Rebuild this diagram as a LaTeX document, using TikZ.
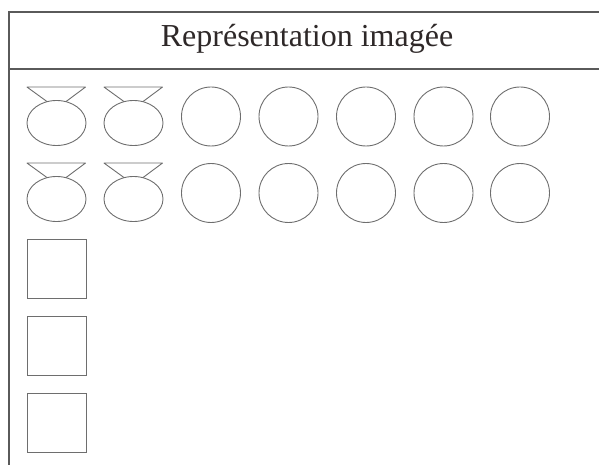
\documentclass[tikz,border=0pt]{standalone}
\usepackage{fontspec}
\setmainfont{Liberation Serif}
\usetikzlibrary{shapes.geometric}
\definecolor{frameclr}{HTML}{5A5A5A}
\definecolor{shapeclr}{HTML}{6E6E6E}
\definecolor{textclr}{HTML}{2E2828}
\begin{document}
\begin{tikzpicture}[x=1pt,y=-1pt,
  frameline/.style={draw=frameclr,line width=1.1pt},
  shapeline/.style={draw=shapeclr,line width=0.9pt},
  ring/.style={shapeline,circle,minimum size=59pt,inner sep=0pt},
  oval/.style={shapeline,ellipse,minimum width=59pt,minimum height=45pt,inner sep=0pt},
  sq/.style={shapeline,rectangle,minimum size=59pt,inner sep=0pt},
  title/.style={font=\fontsize{32}{36}\selectfont,text=textclr}]
\useasboundingbox (0,0) rectangle (599,465);
% frame
\coordinate (tl) at (9,12);
\coordinate (tr) at (599,12);
\coordinate (hl) at (9,69);
\coordinate (hr) at (599,69);
\coordinate (bl) at (9,465);
\draw[frameline] (tr) -- (tl) -- (bl);
\draw[frameline] (hl) -- (hr);
\node[title] (t) at (307,39) {Représentation imagée};
% rows of ellipses with trapezoids
\foreach \r/\y in {1/123, 2/199}{
  \foreach \c/\x in {1/56.5, 2/133.5}{
    \node[oval] (e\r\c) at (\x,\y) {};
    \draw[shapeline,line join=round] ([xshift=-9.5pt,yshift=-1.5pt]e\r\c.north) -- ([xshift=-29.5pt,yshift=13pt]e\r\c.north) -- ([xshift=29pt,yshift=13pt]e\r\c.north) -- ([xshift=9.5pt,yshift=-1.5pt]e\r\c.north);
  }
}
% circles
\foreach \r/\y in {1/116.5, 2/193}{
  \foreach \c/\x in {3/211, 4/288.5, 5/366, 6/443.5, 7/520}{
    \node[ring] (c\r\c) at (\x,\y) {};
  }
}
% squares
\foreach \i/\y in {1/268.5, 2/345.5, 3/422.5}{
  \node[sq] (s\i) at (56.5,\y) {};
}
\end{tikzpicture}
\end{document}
